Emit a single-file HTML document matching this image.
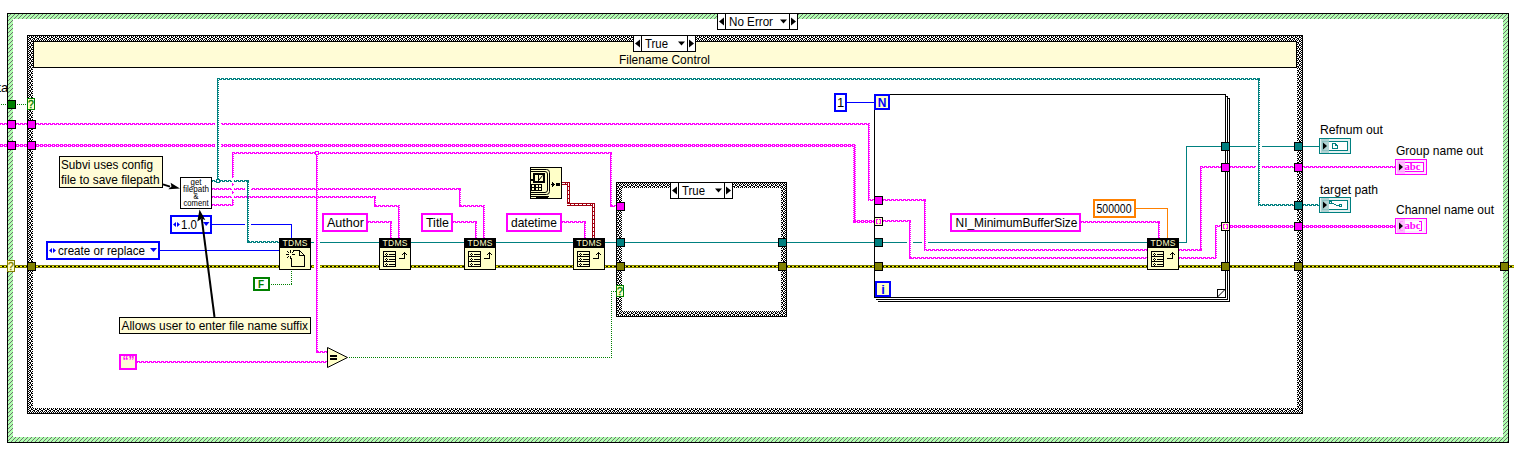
<!DOCTYPE html>
<html><head><meta charset="utf-8"><title>Block diagram</title>
<style>html,body{margin:0;padding:0;background:#fff;overflow:hidden}svg{display:block}</style>
</head><body>
<svg width="1514" height="470" viewBox="0 0 1514 470" shape-rendering="crispEdges" font-family="Liberation Sans, sans-serif">
<defs>
<pattern id="hatch" width="4" height="4" patternUnits="userSpaceOnUse"><rect width="4" height="4" fill="#b0ffb0"/><rect x="0" y="0" width="1" height="1" fill="#707070"/><rect x="3" y="1" width="1" height="1" fill="#707070"/><rect x="2" y="2" width="1" height="1" fill="#707070"/><rect x="1" y="3" width="1" height="1" fill="#707070"/></pattern>
<pattern id="chk" width="4" height="4" patternUnits="userSpaceOnUse"><rect width="4" height="4" fill="#fff"/><rect x="1" y="0" width="1" height="1" fill="#000"/><rect x="3" y="0" width="1" height="1" fill="#000"/><rect x="0" y="1" width="1" height="1" fill="#000"/><rect x="3" y="1" width="1" height="1" fill="#000"/><rect x="1" y="2" width="1" height="1" fill="#000"/><rect x="2" y="2" width="1" height="1" fill="#000"/><rect x="0" y="3" width="1" height="1" fill="#000"/><rect x="2" y="3" width="1" height="1" fill="#000"/></pattern>
<pattern id="sHp" width="4" height="2" patternUnits="userSpaceOnUse"><rect x="0" y="0" width="1" height="1" fill="#ff00ff"/><rect x="1" y="0" width="1" height="1" fill="#ff00ff"/><rect x="2" y="0" width="1" height="1" fill="#ff00ff"/><rect x="0" y="1" width="1" height="1" fill="#ff00ff"/><rect x="2" y="1" width="1" height="1" fill="#ff00ff"/><rect x="3" y="1" width="1" height="1" fill="#ff00ff"/></pattern>
<pattern id="sVp" width="2" height="2" patternUnits="userSpaceOnUse"><rect x="0" y="0" width="1" height="1" fill="#ff00ff"/><rect x="1" y="0" width="1" height="1" fill="#ff00ff"/><rect x="0" y="1" width="1" height="1" fill="#ff00ff"/></pattern>
<pattern id="sHt" width="4" height="2" patternUnits="userSpaceOnUse"><rect x="0" y="0" width="1" height="1" fill="#008080"/><rect x="1" y="0" width="1" height="1" fill="#008080"/><rect x="2" y="0" width="1" height="1" fill="#008080"/><rect x="0" y="1" width="1" height="1" fill="#008080"/><rect x="2" y="1" width="1" height="1" fill="#008080"/><rect x="3" y="1" width="1" height="1" fill="#008080"/></pattern>
<pattern id="sVt" width="2" height="2" patternUnits="userSpaceOnUse"><rect x="0" y="0" width="1" height="1" fill="#008080"/><rect x="1" y="0" width="1" height="1" fill="#008080"/><rect x="0" y="1" width="1" height="1" fill="#008080"/></pattern>
<pattern id="bH" width="2" height="1" patternUnits="userSpaceOnUse"><rect x="1" y="0" width="1" height="1" fill="#008000"/></pattern>
<pattern id="bV" width="1" height="2" patternUnits="userSpaceOnUse"><rect x="0" y="1" width="1" height="1" fill="#008000"/></pattern>
<pattern id="cH" width="4" height="3" patternUnits="userSpaceOnUse"><rect x="0" y="0" width="1" height="1" fill="#ff00ff"/><rect x="1" y="0" width="1" height="1" fill="#ff00ff"/><rect x="2" y="0" width="1" height="1" fill="#ff00ff"/><rect x="0" y="1" width="1" height="1" fill="#ff00ff"/><rect x="2" y="1" width="1" height="1" fill="#ff00ff"/><rect x="3" y="1" width="1" height="1" fill="#ff00ff"/><rect x="0" y="2" width="1" height="1" fill="#ff00ff"/><rect x="1" y="2" width="1" height="1" fill="#ff00ff"/><rect x="2" y="2" width="1" height="1" fill="#ff00ff"/></pattern>
<pattern id="cV" width="3" height="2" patternUnits="userSpaceOnUse"><rect x="0" y="0" width="1" height="1" fill="#ff00ff"/><rect x="1" y="0" width="1" height="1" fill="#ff00ff"/><rect x="1" y="1" width="1" height="1" fill="#ff00ff"/><rect x="2" y="1" width="1" height="1" fill="#ff00ff"/></pattern>
</defs>
<rect width="1514" height="470" fill="#fff"/>
<rect x="7" y="13" width="1502" height="430" fill="#000"/>
<rect x="8" y="14" width="1500" height="428" fill="url(#hatch)"/>
<rect x="13" y="19" width="1490" height="418" fill="#fff"/>
<rect x="27" y="35" width="1276" height="379" fill="#000"/>
<rect x="28" y="36" width="1274" height="377" fill="url(#chk)"/>
<rect x="33" y="41" width="1264" height="367" fill="#fff"/>
<rect x="33.5" y="41.5" width="1263" height="26" fill="#fffcd6" stroke="#000" stroke-width="1"/>
<text x="664.5" y="63.7" font-size="13" fill="#000" text-anchor="middle" font-weight="normal" textLength="91" lengthAdjust="spacingAndGlyphs" >Filename Control</text>
<rect x="0" y="265" width="1514" height="3" fill="#808000"/>
<line x1="0" y1="266.5" x2="1514" y2="266.5" stroke="#000" stroke-width="1"/>
<line x1="0" y1="266.5" x2="1514" y2="266.5" stroke="#ffff00" stroke-width="1" stroke-dasharray="2 2"/>
<rect x="311" y="242" width="305" height="1" fill="#008080" />
<rect x="625" y="242" width="249" height="1" fill="#008080" />
<rect x="883" y="242" width="264" height="1" fill="#008080" />
<rect x="1179" y="242" width="8" height="1" fill="#008080" />
<rect x="1186" y="146" width="1" height="97" fill="#008080" />
<rect x="1186" y="146" width="35" height="1" fill="#008080" />
<rect x="1230" y="146" width="89" height="1" fill="#008080" />
<rect x="212" y="224" width="80" height="1" fill="#0000ff" />
<rect x="291" y="224" width="1" height="14" fill="#0000ff" />
<rect x="160" y="250" width="119" height="1" fill="#0000ff" />
<rect x="846" y="102" width="28" height="1" fill="#0000ff" />
<rect x="1136" y="208" width="32" height="1" fill="#ff8000" />
<rect x="1167" y="208" width="1" height="30" fill="#ff8000" />
<rect x="0" y="104" width="7" height="1" fill="url(#bH)"/>
<rect x="16" y="104" width="11" height="1" fill="url(#bH)"/>
<rect x="269" y="284" width="23" height="1" fill="url(#bH)"/>
<rect x="291" y="270" width="1" height="15" fill="url(#bV)"/>
<rect x="348" y="357" width="264" height="1" fill="url(#bH)"/>
<rect x="611" y="291" width="1" height="67" fill="url(#bV)"/>
<rect x="611" y="291" width="5" height="1" fill="url(#bH)"/>
<rect transform="translate(0,123)" width="27" height="2" fill="url(#sHp)"/>
<rect transform="translate(0,144)" width="27" height="3" fill="url(#cH)"/>
<rect transform="translate(36,123)" width="834" height="2" fill="url(#sHp)"/>
<rect transform="translate(36,144)" width="820" height="3" fill="url(#cH)"/>
<rect transform="translate(212,188)" width="249" height="2" fill="url(#sHp)"/>
<rect transform="translate(212,196)" width="164" height="2" fill="url(#sHp)"/>
<rect transform="translate(212,204)" width="22" height="2" fill="url(#sHp)"/>
<rect transform="translate(232,152)" width="380" height="2" fill="url(#sHp)"/>
<rect transform="translate(137,361)" width="190" height="2" fill="url(#sHp)"/>
<rect transform="translate(1230,166)" width="165" height="2" fill="url(#sHp)"/>
<rect transform="translate(1230,225)" width="165" height="3" fill="url(#cH)"/>
<rect transform="translate(883,199)" width="43" height="2" fill="url(#sHp)"/>
<rect transform="translate(924,249)" width="223" height="2" fill="url(#sHp)"/>
<rect transform="translate(883,220)" width="28" height="2" fill="url(#sHp)"/>
<rect transform="translate(909,257)" width="238" height="2" fill="url(#sHp)"/>
<rect transform="translate(1179,249)" width="23" height="2" fill="url(#sHp)"/>
<rect transform="translate(1200,166)" width="21" height="2" fill="url(#sHp)"/>
<rect transform="translate(1179,257)" width="38" height="2" fill="url(#sHp)"/>
<rect transform="translate(1215,225)" width="6" height="2" fill="url(#sHp)"/>
<rect transform="translate(368,221)" width="24" height="2" fill="url(#sHp)"/>
<rect transform="translate(453,221)" width="24" height="2" fill="url(#sHp)"/>
<rect transform="translate(562,221)" width="24" height="2" fill="url(#sHp)"/>
<rect transform="translate(1081,221)" width="79" height="2" fill="url(#sHp)"/>
<rect transform="translate(374,205)" width="26" height="2" fill="url(#sHp)"/>
<rect transform="translate(459,205)" width="26" height="2" fill="url(#sHp)"/>
<rect transform="translate(610,205)" width="6" height="2" fill="url(#sHp)"/>
<rect transform="translate(316,351)" width="11" height="2" fill="url(#sHp)"/>
<rect transform="translate(868,199)" width="6" height="2" fill="url(#sHp)"/>
<rect transform="translate(853,220)" width="21" height="3" fill="url(#cH)"/>
<rect x="215" y="122" width="6" height="4" fill="#fff"/>
<rect x="215" y="143" width="6" height="5" fill="#fff"/>
<rect x="245" y="224" width="6" height="1" fill="#fff"/>
<rect x="245" y="188" width="6" height="2" fill="#fff"/>
<rect x="314" y="242" width="6" height="1" fill="#fff"/>
<rect x="314" y="265" width="6" height="3" fill="#fff"/>
<rect x="907" y="242" width="6" height="1" fill="#fff"/>
<rect x="922" y="242" width="6" height="1" fill="#fff"/>
<rect x="1256" y="146" width="6" height="1" fill="#fff"/>
<rect x="1256" y="166" width="6" height="2" fill="#fff"/>
<rect transform="translate(217,78)" width="2" height="104" fill="url(#sVt)"/>
<rect transform="translate(247,180)" width="2" height="63" fill="url(#sVt)"/>
<rect transform="translate(1258,78)" width="2" height="128" fill="url(#sVt)"/>
<rect transform="translate(217,78)" width="1043" height="2" fill="url(#sHt)"/>
<rect transform="translate(212,180)" width="37" height="2" fill="url(#sHt)"/>
<rect transform="translate(247,241)" width="32" height="2" fill="url(#sHt)"/>
<rect transform="translate(1258,204)" width="36" height="2" fill="url(#sHt)"/>
<rect transform="translate(1303,204)" width="16" height="2" fill="url(#sHt)"/>
<rect transform="translate(232,152)" width="2" height="54" fill="url(#sVp)"/>
<rect x="232" y="178" width="2" height="5" fill="#fff"/>
<rect x="232" y="186" width="2" height="5" fill="#fff"/>
<rect x="232" y="194" width="2" height="5" fill="#fff"/>
<rect transform="translate(316,152)" width="2" height="201" fill="url(#sVp)"/>
<rect transform="translate(374,196)" width="2" height="11" fill="url(#sVp)"/>
<rect transform="translate(398,205)" width="2" height="33" fill="url(#sVp)"/>
<rect transform="translate(459,188)" width="2" height="19" fill="url(#sVp)"/>
<rect transform="translate(483,205)" width="2" height="33" fill="url(#sVp)"/>
<rect transform="translate(390,221)" width="2" height="17" fill="url(#sVp)"/>
<rect transform="translate(475,221)" width="2" height="17" fill="url(#sVp)"/>
<rect transform="translate(584,221)" width="2" height="17" fill="url(#sVp)"/>
<rect transform="translate(1158,221)" width="2" height="17" fill="url(#sVp)"/>
<rect transform="translate(610,152)" width="2" height="55" fill="url(#sVp)"/>
<rect transform="translate(868,123)" width="2" height="78" fill="url(#sVp)"/>
<rect transform="translate(853,144)" width="3" height="79" fill="url(#cV)"/>
<rect transform="translate(924,199)" width="2" height="52" fill="url(#sVp)"/>
<rect transform="translate(909,220)" width="2" height="39" fill="url(#sVp)"/>
<rect transform="translate(1200,166)" width="2" height="85" fill="url(#sVp)"/>
<rect transform="translate(1215,225)" width="2" height="34" fill="url(#sVp)"/>
<rect x="315" y="151" width="4" height="4" fill="#ff00ff"/>
<rect x="316" y="152" width="2" height="2" fill="#fff"/>
<rect x="216" y="179" width="4" height="4" fill="#008080"/>
<rect x="217" y="180" width="2" height="2" fill="#fff"/>
<rect x="562" y="182" width="8" height="3" fill="#a00010"/>
<line x1="562" y1="183.5" x2="570" y2="183.5" stroke="#fff" stroke-width="1" stroke-dasharray="3 1"/>
<rect x="567" y="182" width="3" height="24" fill="#a00010"/>
<line x1="568.5" y1="183" x2="568.5" y2="206" stroke="#fff" stroke-width="1" stroke-dasharray="3 1"/>
<rect x="567" y="203" width="28" height="3" fill="#a00010"/>
<line x1="567" y1="204.5" x2="595" y2="204.5" stroke="#fff" stroke-width="1" stroke-dasharray="3 1"/>
<rect x="592" y="203" width="3" height="35" fill="#a00010"/>
<line x1="593.5" y1="204" x2="593.5" y2="238" stroke="#fff" stroke-width="1" stroke-dasharray="3 1"/>
<rect x="616" y="182" width="171" height="6" fill="#000"/>
<rect x="616" y="311" width="171" height="6" fill="#000"/>
<rect x="616" y="182" width="6" height="135" fill="#000"/>
<rect x="781" y="182" width="6" height="135" fill="#000"/>
<rect x="617" y="183" width="169" height="5" fill="url(#chk)"/>
<rect x="617" y="311" width="169" height="5" fill="url(#chk)"/>
<rect x="617" y="183" width="5" height="133" fill="url(#chk)"/>
<rect x="781" y="183" width="5" height="133" fill="url(#chk)"/>
<rect x="670.5" y="182.5" width="62" height="16" fill="#fff" stroke="#000" stroke-width="1"/>
<rect x="678" y="182" width="1" height="17" fill="#000" />
<rect x="724" y="182" width="1" height="17" fill="#000" />
<polygon points="672,190.5 677,186.5 677,194.5" fill="#000" shape-rendering="auto"/>
<polygon points="731,190.5 726,186.5 726,194.5" fill="#000" shape-rendering="auto"/>
<polygon points="715,188.5 722,188.5 718.5,192.5" fill="#000" shape-rendering="auto"/>
<text x="682" y="195" font-size="13" fill="#000" text-anchor="start" font-weight="normal" textLength="23" lengthAdjust="spacingAndGlyphs" >True</text>
<rect x="616.5" y="202.5" width="8" height="8" fill="#ff00ff" stroke="#000" stroke-width="1"/>
<rect x="616.5" y="238.5" width="8" height="8" fill="#008080" stroke="#000" stroke-width="1"/>
<rect x="778.5" y="238.5" width="8" height="8" fill="#008080" stroke="#000" stroke-width="1"/>
<rect x="616.5" y="262.5" width="8" height="8" fill="#808000" stroke="#000" stroke-width="1"/>
<rect x="778.5" y="262.5" width="8" height="8" fill="#808000" stroke="#000" stroke-width="1"/>
<rect x="616.5" y="285.5" width="7" height="11" fill="#ffffc8" stroke="#008000" stroke-width="1"/>
<text x="620" y="294.6" font-size="10.5" fill="#008000" text-anchor="middle" font-weight="normal" stroke="#008000" stroke-width="0.35">?</text>
<rect x="1229" y="98" width="1" height="204" fill="#000" />
<rect x="878" y="301" width="352" height="1" fill="#000" />
<rect x="1228" y="98" width="1" height="1" fill="#000" />
<rect x="1227" y="96" width="1" height="204" fill="#000" />
<rect x="876" y="299" width="352" height="1" fill="#000" />
<rect x="1226" y="96" width="1" height="1" fill="#000" />
<rect x="874.5" y="94.5" width="351" height="203" fill="none" stroke="#000"/>
<path d="M1217.5 297 V289.5 H1225" fill="none" stroke="#000"/><line x1="1217.5" y1="297" x2="1225" y2="289.5" stroke="#000" shape-rendering="auto"/>
<rect x="875.0" y="95.0" width="14" height="14" fill="#ffffc8" stroke="#0000ff" stroke-width="2"/>
<text x="882" y="107" font-size="12" fill="#0000ff" text-anchor="middle" font-weight="bold" >N</text>
<rect x="876.0" y="282.0" width="14" height="14" fill="#ffffc8" stroke="#0000ff" stroke-width="2"/>
<text x="883" y="294" font-size="13" fill="#0000ff" text-anchor="middle" font-weight="bold" >i</text>
<rect x="874.5" y="196.5" width="8" height="8" fill="#ff00ff" stroke="#000" stroke-width="1"/>
<rect x="874.5" y="217.5" width="8" height="8" fill="#ffffc8" stroke="#000" stroke-width="1"/>
<rect x="876" y="219" width="1" height="5" fill="#ff00ff"/>
<rect x="877" y="219" width="1" height="1" fill="#ff00ff"/>
<rect x="877" y="223" width="1" height="1" fill="#ff00ff"/>
<rect x="880" y="219" width="1" height="5" fill="#ff00ff"/>
<rect x="879" y="219" width="1" height="1" fill="#ff00ff"/>
<rect x="879" y="223" width="1" height="1" fill="#ff00ff"/>
<rect x="874.5" y="238.5" width="8" height="8" fill="#008080" stroke="#000" stroke-width="1"/>
<rect x="874.5" y="262.5" width="8" height="8" fill="#808000" stroke="#000" stroke-width="1"/>
<rect x="1221.5" y="142.5" width="8" height="8" fill="#008080" stroke="#000" stroke-width="1"/>
<rect x="1221.5" y="163.5" width="8" height="8" fill="#ff00ff" stroke="#000" stroke-width="1"/>
<rect x="1221.5" y="222.5" width="8" height="8" fill="#ffffc8" stroke="#000" stroke-width="1"/>
<rect x="1223" y="224" width="1" height="5" fill="#ff00ff"/>
<rect x="1224" y="224" width="1" height="1" fill="#ff00ff"/>
<rect x="1224" y="228" width="1" height="1" fill="#ff00ff"/>
<rect x="1227" y="224" width="1" height="5" fill="#ff00ff"/>
<rect x="1226" y="224" width="1" height="1" fill="#ff00ff"/>
<rect x="1226" y="228" width="1" height="1" fill="#ff00ff"/>
<rect x="1221.5" y="262.5" width="8" height="8" fill="#808000" stroke="#000" stroke-width="1"/>
<rect x="7.5" y="100.5" width="8" height="8" fill="#008000" stroke="#000" stroke-width="1"/>
<rect x="7.5" y="120.5" width="8" height="8" fill="#ff00ff" stroke="#000" stroke-width="1"/>
<rect x="7.5" y="141.5" width="8" height="8" fill="#ff00ff" stroke="#000" stroke-width="1"/>
<rect x="7.5" y="260.5" width="7" height="11" fill="#ffffc8" stroke="#808000" stroke-width="1"/>
<text x="11" y="269.6" font-size="10.5" fill="#808000" text-anchor="middle" font-weight="normal" stroke="#808000" stroke-width="0.35">?</text>
<rect x="27.5" y="98.5" width="7" height="11" fill="#ffffc8" stroke="#008000" stroke-width="1"/>
<text x="31" y="107.6" font-size="10.5" fill="#008000" text-anchor="middle" font-weight="normal" stroke="#008000" stroke-width="0.35">?</text>
<rect x="27.5" y="120.5" width="8" height="8" fill="#ff00ff" stroke="#000" stroke-width="1"/>
<rect x="27.5" y="141.5" width="8" height="8" fill="#ff00ff" stroke="#000" stroke-width="1"/>
<rect x="27.5" y="262.5" width="8" height="8" fill="#808000" stroke="#000" stroke-width="1"/>
<rect x="1294.5" y="142.5" width="8" height="8" fill="#008080" stroke="#000" stroke-width="1"/>
<rect x="1294.5" y="163.5" width="8" height="8" fill="#ff00ff" stroke="#000" stroke-width="1"/>
<rect x="1294.5" y="201.5" width="8" height="8" fill="#008080" stroke="#000" stroke-width="1"/>
<rect x="1294.5" y="222.5" width="8" height="8" fill="#ff00ff" stroke="#000" stroke-width="1"/>
<rect x="1294.5" y="262.5" width="8" height="8" fill="#808000" stroke="#000" stroke-width="1"/>
<rect x="1500.5" y="262.5" width="8" height="8" fill="#808000" stroke="#000" stroke-width="1"/>
<rect x="717.5" y="13.5" width="80" height="16" fill="#fff" stroke="#000" stroke-width="1"/>
<rect x="725" y="13" width="1" height="17" fill="#000" />
<rect x="789" y="13" width="1" height="17" fill="#000" />
<polygon points="719,21.5 724,17.5 724,25.5" fill="#000" shape-rendering="auto"/>
<polygon points="796,21.5 791,17.5 791,25.5" fill="#000" shape-rendering="auto"/>
<polygon points="780,19.5 787,19.5 783.5,23.5" fill="#000" shape-rendering="auto"/>
<text x="729" y="26" font-size="13" fill="#000" text-anchor="start" font-weight="normal" textLength="44" lengthAdjust="spacingAndGlyphs" >No Error</text>
<rect x="633.5" y="35.5" width="62" height="16" fill="#fff" stroke="#000" stroke-width="1"/>
<rect x="641" y="35" width="1" height="17" fill="#000" />
<rect x="687" y="35" width="1" height="17" fill="#000" />
<polygon points="635,43.5 640,39.5 640,47.5" fill="#000" shape-rendering="auto"/>
<polygon points="694,43.5 689,39.5 689,47.5" fill="#000" shape-rendering="auto"/>
<polygon points="678,41.5 685,41.5 681.5,45.5" fill="#000" shape-rendering="auto"/>
<text x="645" y="48" font-size="13" fill="#000" text-anchor="start" font-weight="normal" textLength="23" lengthAdjust="spacingAndGlyphs" >True</text>
<rect x="279.5" y="238.5" width="31" height="31" fill="#ffffc8" stroke="#000" stroke-width="1"/>
<rect x="279" y="238" width="32" height="10" fill="#000"/>
<text x="295" y="246.2" font-size="8.5" fill="#ffffc8" text-anchor="middle" textLength="25" lengthAdjust="spacing">TDMS</text>
<path d="M291.5 250.5 H299.5 L304.5 255.5 V266.5 H291.5 Z" fill="#ffffc8" stroke="#000"/>
<path d="M299.5 250.5 V255.5 H304.5" fill="none" stroke="#000"/>
<rect x="287" y="250" width="6" height="8" fill="#ffffc8"/>
<rect x="290" y="250" width="1" height="3" fill="#000" />
<rect x="290" y="256" width="1" height="3" fill="#000" />
<rect x="286" y="254" width="3" height="1" fill="#000" />
<rect x="292" y="254" width="3" height="1" fill="#000" />
<rect x="287" y="251" width="1" height="1" fill="#000"/>
<rect x="288" y="252" width="1" height="1" fill="#000"/>
<rect x="293" y="251" width="1" height="1" fill="#000"/>
<rect x="292" y="252" width="1" height="1" fill="#000"/>
<rect x="287" y="257" width="1" height="1" fill="#000"/>
<rect x="288" y="256" width="1" height="1" fill="#000"/>
<rect x="379.5" y="238.5" width="31" height="31" fill="#ffffc8" stroke="#000" stroke-width="1"/>
<rect x="379" y="238" width="32" height="10" fill="#000"/>
<text x="395" y="246.2" font-size="8.5" fill="#ffffc8" text-anchor="middle" textLength="25" lengthAdjust="spacing">TDMS</text>
<rect x="383.5" y="251.5" width="12" height="15" fill="none" stroke="#000"/>
<rect x="383" y="256" width="13" height="1" fill="#000" />
<rect x="383" y="261" width="13" height="1" fill="#000" />
<rect x="389" y="254" width="6" height="1" fill="#000" />
<rect x="386" y="253" width="1" height="1" fill="#000"/>
<rect x="385" y="254" width="1" height="1" fill="#000"/>
<rect x="387" y="254" width="1" height="1" fill="#000"/>
<rect x="386" y="255" width="1" height="1" fill="#000"/>
<rect x="389" y="259" width="6" height="1" fill="#000" />
<rect x="386" y="258" width="1" height="1" fill="#000"/>
<rect x="385" y="259" width="1" height="1" fill="#000"/>
<rect x="387" y="259" width="1" height="1" fill="#000"/>
<rect x="386" y="260" width="1" height="1" fill="#000"/>
<rect x="389" y="264" width="6" height="1" fill="#000" />
<rect x="386" y="263" width="1" height="1" fill="#000"/>
<rect x="385" y="264" width="1" height="1" fill="#000"/>
<rect x="387" y="264" width="1" height="1" fill="#000"/>
<rect x="386" y="265" width="1" height="1" fill="#000"/>
<rect x="399" y="258" width="6" height="1" fill="#000" />
<rect x="404" y="253" width="1" height="6" fill="#000" />
<rect x="403" y="253" width="3" height="1" fill="#000"/>
<rect x="402" y="254" width="1" height="1" fill="#000"/>
<rect x="406" y="254" width="1" height="1" fill="#000"/>
<rect x="404" y="252" width="1" height="1" fill="#000"/>
<rect x="464.5" y="238.5" width="31" height="31" fill="#ffffc8" stroke="#000" stroke-width="1"/>
<rect x="464" y="238" width="32" height="10" fill="#000"/>
<text x="480" y="246.2" font-size="8.5" fill="#ffffc8" text-anchor="middle" textLength="25" lengthAdjust="spacing">TDMS</text>
<rect x="468.5" y="251.5" width="12" height="15" fill="none" stroke="#000"/>
<rect x="468" y="256" width="13" height="1" fill="#000" />
<rect x="468" y="261" width="13" height="1" fill="#000" />
<rect x="474" y="254" width="6" height="1" fill="#000" />
<rect x="471" y="253" width="1" height="1" fill="#000"/>
<rect x="470" y="254" width="1" height="1" fill="#000"/>
<rect x="472" y="254" width="1" height="1" fill="#000"/>
<rect x="471" y="255" width="1" height="1" fill="#000"/>
<rect x="474" y="259" width="6" height="1" fill="#000" />
<rect x="471" y="258" width="1" height="1" fill="#000"/>
<rect x="470" y="259" width="1" height="1" fill="#000"/>
<rect x="472" y="259" width="1" height="1" fill="#000"/>
<rect x="471" y="260" width="1" height="1" fill="#000"/>
<rect x="474" y="264" width="6" height="1" fill="#000" />
<rect x="471" y="263" width="1" height="1" fill="#000"/>
<rect x="470" y="264" width="1" height="1" fill="#000"/>
<rect x="472" y="264" width="1" height="1" fill="#000"/>
<rect x="471" y="265" width="1" height="1" fill="#000"/>
<rect x="484" y="258" width="6" height="1" fill="#000" />
<rect x="489" y="253" width="1" height="6" fill="#000" />
<rect x="488" y="253" width="3" height="1" fill="#000"/>
<rect x="487" y="254" width="1" height="1" fill="#000"/>
<rect x="491" y="254" width="1" height="1" fill="#000"/>
<rect x="489" y="252" width="1" height="1" fill="#000"/>
<rect x="573.5" y="238.5" width="31" height="31" fill="#ffffc8" stroke="#000" stroke-width="1"/>
<rect x="573" y="238" width="32" height="10" fill="#000"/>
<text x="589" y="246.2" font-size="8.5" fill="#ffffc8" text-anchor="middle" textLength="25" lengthAdjust="spacing">TDMS</text>
<rect x="577.5" y="251.5" width="12" height="15" fill="none" stroke="#000"/>
<rect x="577" y="256" width="13" height="1" fill="#000" />
<rect x="577" y="261" width="13" height="1" fill="#000" />
<rect x="583" y="254" width="6" height="1" fill="#000" />
<rect x="580" y="253" width="1" height="1" fill="#000"/>
<rect x="579" y="254" width="1" height="1" fill="#000"/>
<rect x="581" y="254" width="1" height="1" fill="#000"/>
<rect x="580" y="255" width="1" height="1" fill="#000"/>
<rect x="583" y="259" width="6" height="1" fill="#000" />
<rect x="580" y="258" width="1" height="1" fill="#000"/>
<rect x="579" y="259" width="1" height="1" fill="#000"/>
<rect x="581" y="259" width="1" height="1" fill="#000"/>
<rect x="580" y="260" width="1" height="1" fill="#000"/>
<rect x="583" y="264" width="6" height="1" fill="#000" />
<rect x="580" y="263" width="1" height="1" fill="#000"/>
<rect x="579" y="264" width="1" height="1" fill="#000"/>
<rect x="581" y="264" width="1" height="1" fill="#000"/>
<rect x="580" y="265" width="1" height="1" fill="#000"/>
<rect x="593" y="258" width="6" height="1" fill="#000" />
<rect x="598" y="253" width="1" height="6" fill="#000" />
<rect x="597" y="253" width="3" height="1" fill="#000"/>
<rect x="596" y="254" width="1" height="1" fill="#000"/>
<rect x="600" y="254" width="1" height="1" fill="#000"/>
<rect x="598" y="252" width="1" height="1" fill="#000"/>
<rect x="1147.5" y="238.5" width="31" height="31" fill="#ffffc8" stroke="#000" stroke-width="1"/>
<rect x="1147" y="238" width="32" height="10" fill="#000"/>
<text x="1163" y="246.2" font-size="8.5" fill="#ffffc8" text-anchor="middle" textLength="25" lengthAdjust="spacing">TDMS</text>
<rect x="1151.5" y="251.5" width="12" height="15" fill="none" stroke="#000"/>
<rect x="1151" y="256" width="13" height="1" fill="#000" />
<rect x="1151" y="261" width="13" height="1" fill="#000" />
<rect x="1157" y="254" width="6" height="1" fill="#000" />
<rect x="1154" y="253" width="1" height="1" fill="#000"/>
<rect x="1153" y="254" width="1" height="1" fill="#000"/>
<rect x="1155" y="254" width="1" height="1" fill="#000"/>
<rect x="1154" y="255" width="1" height="1" fill="#000"/>
<rect x="1157" y="259" width="6" height="1" fill="#000" />
<rect x="1154" y="258" width="1" height="1" fill="#000"/>
<rect x="1153" y="259" width="1" height="1" fill="#000"/>
<rect x="1155" y="259" width="1" height="1" fill="#000"/>
<rect x="1154" y="260" width="1" height="1" fill="#000"/>
<rect x="1157" y="264" width="6" height="1" fill="#000" />
<rect x="1154" y="263" width="1" height="1" fill="#000"/>
<rect x="1153" y="264" width="1" height="1" fill="#000"/>
<rect x="1155" y="264" width="1" height="1" fill="#000"/>
<rect x="1154" y="265" width="1" height="1" fill="#000"/>
<rect x="1167" y="258" width="6" height="1" fill="#000" />
<rect x="1172" y="253" width="1" height="6" fill="#000" />
<rect x="1171" y="253" width="3" height="1" fill="#000"/>
<rect x="1170" y="254" width="1" height="1" fill="#000"/>
<rect x="1174" y="254" width="1" height="1" fill="#000"/>
<rect x="1172" y="252" width="1" height="1" fill="#000"/>
<rect x="180.5" y="177.5" width="31" height="31" fill="#fff" stroke="#000" stroke-width="1"/>
<text x="190.5" y="184.5" font-size="9" textLength="11" lengthAdjust="spacingAndGlyphs">get</text>
<text x="183.0" y="191.5" font-size="9" textLength="26" lengthAdjust="spacingAndGlyphs">filepath</text>
<text x="193.5" y="198.5" font-size="9" textLength="5" lengthAdjust="spacingAndGlyphs">&amp;</text>
<text x="183.5" y="205.5" font-size="9" textLength="25" lengthAdjust="spacingAndGlyphs">coment</text>
<rect x="530.5" y="167.5" width="31" height="31" fill="#ffffc8" stroke="#000" stroke-width="1"/>
<path d="M531 169.5 H546.5 Q549.5 169.5 549.5 172.5 V191.5 Q549.5 194.5 546.5 194.5 H531" fill="none" stroke="#000" shape-rendering="auto"/>
<path d="M531 171.5 H545 Q547.5 171.5 547.5 174 V190 Q547.5 192.5 545 192.5 H531" fill="none" stroke="#000" shape-rendering="auto"/>
<rect x="534.0" y="174.0" width="10" height="8" fill="#ffffc8" stroke="#000" stroke-width="2"/>
<rect x="538" y="175" width="1" height="6" fill="#000" />
<line x1="539" y1="180" x2="542.5" y2="175.5" stroke="#000" shape-rendering="auto"/>
<rect x="531.5" y="179.5" width="1" height="1" fill="#ffffc8" stroke="#000" stroke-width="1"/>
<rect x="531" y="184" width="11" height="7" fill="#000"/>
<rect x="532" y="185" width="2" height="2" fill="#ffffc8"/>
<rect x="536" y="185" width="2" height="2" fill="#ffffc8"/>
<rect x="539" y="185" width="2" height="2" fill="#ffffc8"/>
<rect x="532" y="188" width="2" height="2" fill="#ffffc8"/>
<rect x="536" y="188" width="2" height="2" fill="#ffffc8"/>
<rect x="539" y="188" width="2" height="2" fill="#ffffc8"/>
<rect x="536" y="197" width="12" height="2" fill="#000"/>
<rect x="531" y="196" width="18" height="1" fill="#000" />
<rect x="551" y="184" width="4" height="1" fill="#000" />
<rect x="553" y="183" width="1" height="3" fill="#000"/>
<rect x="552" y="182" width="1" height="5" fill="#000"/>
<rect x="556" y="183" width="4" height="3" fill="#000"/>
<polygon points="327.5,347.5 347.5,357.5 327.5,367.5" fill="#ffffc8" stroke="#000" shape-rendering="auto"/>
<rect x="330" y="355" width="7" height="2" fill="#000"/>
<rect x="330" y="358" width="7" height="2" fill="#000"/>
<rect x="171.0" y="216.0" width="40" height="17" fill="#fff" stroke="#0000ff" stroke-width="2"/>
<text x="181" y="229" font-size="13" fill="#000" text-anchor="start" font-weight="normal" textLength="16" lengthAdjust="spacingAndGlyphs" >1.0</text>
<polygon points="173,224.5 176,222 176,227" fill="#0000ff" shape-rendering="auto"/><polygon points="180,224.5 177,222 177,227" fill="#0000ff" shape-rendering="auto"/>
<polygon points="203,222 209.5,222 206.2,226" fill="#0000ff" shape-rendering="auto"/>
<rect x="47.0" y="242.0" width="112" height="17" fill="#fff" stroke="#0000ff" stroke-width="2"/>
<text x="58" y="255" font-size="13" fill="#000" text-anchor="start" font-weight="normal" textLength="87" lengthAdjust="spacingAndGlyphs" >create or replace</text>
<polygon points="49,250.5 52,248 52,253" fill="#0000ff" shape-rendering="auto"/><polygon points="56,250.5 53,248 53,253" fill="#0000ff" shape-rendering="auto"/>
<polygon points="150,248 157,248 153.5,252" fill="#0000ff" shape-rendering="auto"/>
<rect x="323.0" y="214.0" width="44" height="17" fill="#fff" stroke="#ff00ff" stroke-width="2"/>
<text x="327" y="227" font-size="13" fill="#000" text-anchor="start" font-weight="normal" textLength="37" lengthAdjust="spacingAndGlyphs" >Author</text>
<rect x="422.0" y="214.0" width="30" height="17" fill="#fff" stroke="#ff00ff" stroke-width="2"/>
<text x="426" y="227" font-size="13" fill="#000" text-anchor="start" font-weight="normal" textLength="23" lengthAdjust="spacingAndGlyphs" >Title</text>
<rect x="507.0" y="214.0" width="54" height="17" fill="#fff" stroke="#ff00ff" stroke-width="2"/>
<text x="511" y="227" font-size="13" fill="#000" text-anchor="start" font-weight="normal" textLength="46" lengthAdjust="spacingAndGlyphs" >datetime</text>
<rect x="951.0" y="214.0" width="129" height="17" fill="#fff" stroke="#ff00ff" stroke-width="2"/>
<text x="955.5" y="227" font-size="13" fill="#000" text-anchor="start" font-weight="normal" textLength="122" lengthAdjust="spacingAndGlyphs" >NI_MinimumBufferSize</text>
<rect x="1094.0" y="200.0" width="41" height="17" fill="#fff" stroke="#ff8000" stroke-width="2"/>
<text x="1096.5" y="213" font-size="13" fill="#000" text-anchor="start" font-weight="normal" textLength="35" lengthAdjust="spacingAndGlyphs" >500000</text>
<rect x="835.0" y="94.0" width="11" height="17" fill="#fff" stroke="#0000ff" stroke-width="2"/>
<text x="837" y="107" font-size="13" fill="#000" text-anchor="start" font-weight="normal" >1</text>
<rect x="254.0" y="278.0" width="15" height="12" fill="#fff" stroke="#008000" stroke-width="2"/>
<text x="258" y="288" font-size="10" fill="#008000" text-anchor="start" font-weight="bold" >F</text>
<rect x="120.0" y="355.0" width="16" height="14" fill="#fffcd6" stroke="#ff00ff" stroke-width="2"/>
<text x="128.5" y="365.3" font-size="13" fill="#ff00ff" text-anchor="middle" font-weight="bold" textLength="12" lengthAdjust="spacingAndGlyphs" >&#8220;&#8221;</text>
<rect x="59.5" y="156.5" width="103" height="31" fill="#fffcd6" stroke="#000" stroke-width="1"/>
<text x="61" y="169" font-size="13" fill="#000" text-anchor="start" font-weight="normal" textLength="92" lengthAdjust="spacingAndGlyphs" >Subvi uses config</text>
<text x="61" y="184" font-size="13" fill="#000" text-anchor="start" font-weight="normal" textLength="98.5" lengthAdjust="spacingAndGlyphs" >file to save filepath</text>
<rect x="119.5" y="317.5" width="191" height="16" fill="#fffcd6" stroke="#000" stroke-width="1"/>
<text x="121.5" y="329.5" font-size="13" fill="#000" text-anchor="start" font-weight="normal" textLength="186.5" lengthAdjust="spacingAndGlyphs" >Allows user to enter file name suffix</text>
<line x1="214.5" y1="317" x2="201.8" y2="219" stroke="#000" stroke-width="2" shape-rendering="auto"/>
<polygon points="199.5,209.5 197.3,221.5 201.6,218.8 205.3,220" fill="#000" shape-rendering="auto"/>
<line x1="163" y1="184.3" x2="170" y2="186.6" stroke="#000" stroke-width="1.8" shape-rendering="auto"/>
<polygon points="180,188.5 168.3,189.3 171.5,186.6 170.6,182.8" fill="#000" shape-rendering="auto"/>
<rect x="1319.5" y="138.5" width="31" height="15" fill="#e4f1f1" stroke="#008080" stroke-width="1"/>
<rect x="1322.5" y="141.5" width="25" height="9" fill="#fff" stroke="#008080" stroke-width="1"/>
<rect x="1321" y="139" width="8" height="14" fill="#a6cccc" opacity="0.85"/>
<polygon points="1323,142.5 1327,146 1323,149.5" fill="#000" shape-rendering="auto"/>
<path d="M1332.5 143.5 H1335.5 L1337.5 145.5 V148.5 H1332.5 Z" fill="#fff" stroke="#008080"/>
<path d="M1335.5 143.5 V145.5 H1337.5" fill="none" stroke="#008080"/>
<text x="1320" y="134" font-size="13" fill="#000" text-anchor="start" font-weight="normal" textLength="63" lengthAdjust="spacingAndGlyphs" >Refnum out</text>
<rect x="1319.5" y="197.5" width="31" height="15" fill="#e4f1f1" stroke="#008080" stroke-width="1"/>
<rect x="1322.5" y="200.5" width="25" height="9" fill="#fff" stroke="#008080" stroke-width="1"/>
<rect x="1321" y="198" width="8" height="14" fill="#a6cccc" opacity="0.85"/>
<polygon points="1323,201.5 1327,205 1323,208.5" fill="#000" shape-rendering="auto"/>
<rect x="1329.5" y="201.5" width="2" height="2" fill="#fff" stroke="#008080"/>
<path d="M1332 203.5 H1334 M1334 204.5 H1336 M1336 205.5 H1339" fill="none" stroke="#008080"/>
<rect x="1339.5" y="204.5" width="2" height="2" fill="#fff" stroke="#008080"/>
<text x="1320" y="193.5" font-size="13" fill="#000" text-anchor="start" font-weight="normal" textLength="58" lengthAdjust="spacingAndGlyphs" >target path</text>
<rect x="1395.5" y="159.5" width="31" height="15" fill="#ffe9ff" stroke="#ff00ff" stroke-width="1"/>
<rect x="1398.5" y="162.5" width="25" height="9" fill="#fff" stroke="#ff00ff" stroke-width="1"/>
<rect x="1397" y="160" width="8" height="14" fill="#ffb4ff" opacity="0.85"/>
<polygon points="1399,163.5 1403,167 1399,170.5" fill="#000" shape-rendering="auto"/>
<text x="1404.5" y="170.3" font-size="9.5" fill="#ff00ff" text-anchor="start" font-weight="bold" textLength="16" lengthAdjust="spacingAndGlyphs" font-family="Liberation Serif, serif">abc</text>
<text x="1396" y="155" font-size="13" fill="#000" text-anchor="start" font-weight="normal" textLength="87" lengthAdjust="spacingAndGlyphs" >Group name out</text>
<rect x="1395.5" y="218.5" width="31" height="15" fill="#ffe9ff" stroke="#ff00ff" stroke-width="1"/>
<rect x="1398" y="221" width="26" height="10" fill="#fff"/>
<rect x="1400" y="221" width="1" height="10" fill="#ff00ff" />
<rect x="1400" y="221" width="3" height="1" fill="#ff00ff" />
<rect x="1400" y="230" width="3" height="1" fill="#ff00ff" />
<rect x="1421" y="221" width="1" height="10" fill="#ff00ff" />
<rect x="1419" y="221" width="3" height="1" fill="#ff00ff" />
<rect x="1419" y="230" width="3" height="1" fill="#ff00ff" />
<rect x="1397" y="219" width="8" height="14" fill="#ffb4ff" opacity="0.85"/>
<polygon points="1399,222.5 1403,226 1399,229.5" fill="#000" shape-rendering="auto"/>
<text x="1404.5" y="229.3" font-size="9.5" fill="#ff00ff" text-anchor="start" font-weight="bold" textLength="16" lengthAdjust="spacingAndGlyphs" font-family="Liberation Serif, serif">abc</text>
<text x="1396" y="214" font-size="13" fill="#000" text-anchor="start" font-weight="normal" textLength="98" lengthAdjust="spacingAndGlyphs" >Channel name out</text>
<text x="-2.5" y="92" font-size="13" fill="#000" text-anchor="start" font-weight="normal" >ta</text>
</svg>
</body></html>
